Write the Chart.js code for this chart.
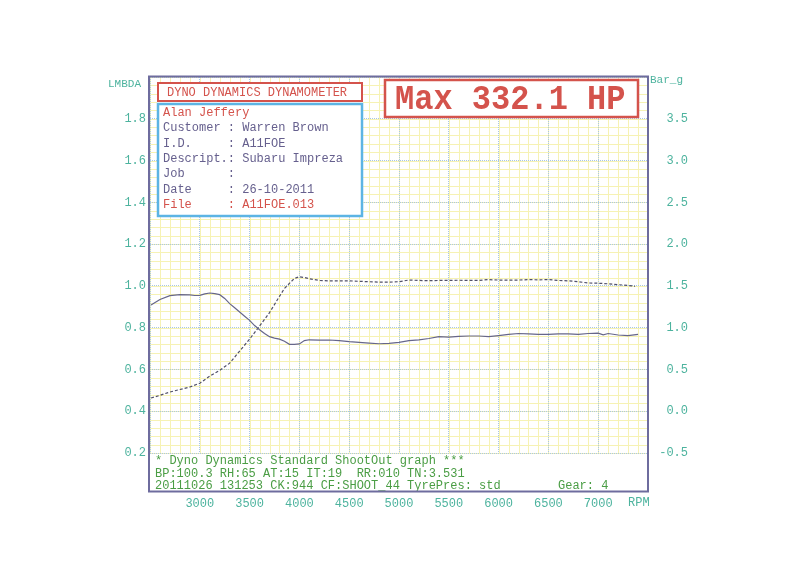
<!DOCTYPE html>
<html>
<head>
<meta charset="utf-8">
<script src="https://cdn.jsdelivr.net/npm/chart.js@4"></script>
<style>
  html, body { margin: 0; padding: 0; background: #fff; }
  canvas { display: block; }
</style>
</head>
<body>
<canvas id="dynoChart" width="799" height="581"></canvas>
<script>
const lambdaRpm = [2510, 2600, 2700, 2800, 2900, 2950, 3000, 3050, 3100, 3150, 3200, 3250, 3300, 3350, 3400, 3450, 3500, 3550, 3600, 3650, 3700, 3750, 3800, 3850, 3900, 3950, 4000, 4050, 4100, 4200, 4300, 4400, 4500, 4600, 4700, 4800, 4900, 5000, 5100, 5200, 5300, 5400, 5500, 5600, 5700, 5800, 5900, 6000, 6100, 6200, 6300, 6400, 6500, 6600, 6700, 6800, 6900, 7000, 7050, 7100, 7200, 7300, 7400];
const lambdaVals = [0.909, 0.935, 0.953, 0.958, 0.957, 0.954, 0.955, 0.962, 0.966, 0.963, 0.958, 0.94, 0.915, 0.895, 0.875, 0.855, 0.835, 0.81, 0.79, 0.772, 0.757, 0.75, 0.745, 0.735, 0.72, 0.72, 0.722, 0.738, 0.742, 0.74, 0.741, 0.738, 0.733, 0.73, 0.726, 0.723, 0.725, 0.73, 0.738, 0.742, 0.748, 0.757, 0.755, 0.758, 0.76, 0.76, 0.757, 0.762, 0.768, 0.772, 0.77, 0.768, 0.768, 0.77, 0.77, 0.768, 0.772, 0.774, 0.766, 0.772, 0.765, 0.762, 0.768];

const boostRpm = [2510, 2600, 2700, 2800, 2900, 3000, 3100, 3200, 3300, 3400, 3500, 3600, 3700, 3800, 3850, 3900, 3950, 4000, 4050, 4100, 4200, 4300, 4400, 4500, 4600, 4700, 4800, 4900, 5000, 5100, 5200, 5300, 5400, 5500, 5600, 5700, 5800, 5900, 6000, 6100, 6200, 6300, 6400, 6500, 6600, 6700, 6800, 6900, 7000, 7100, 7200, 7300, 7370];
const boostVals = [0.158, 0.19, 0.23, 0.26, 0.29, 0.335, 0.42, 0.49, 0.575, 0.72, 0.863, 1.02, 1.18, 1.375, 1.47, 1.53, 1.59, 1.61, 1.6, 1.585, 1.565, 1.56, 1.56, 1.56, 1.555, 1.55, 1.545, 1.545, 1.55, 1.57, 1.565, 1.562, 1.565, 1.565, 1.568, 1.565, 1.565, 1.575, 1.57, 1.568, 1.57, 1.575, 1.572, 1.575, 1.565, 1.56, 1.55, 1.535, 1.532, 1.525, 1.515, 1.505, 1.495];

// header / info text
const headerTitle = 'DYNO DYNAMICS DYNAMOMETER';
const infoLines = [
  'Alan Jeffery',
  'Customer : Warren Brown',
  'I.D.     : A11FOE',
  'Descript.: Subaru Impreza',
  'Job      :',
  'Date     : 26-10-2011',
  'File     : A11FOE.013',
];
const maxPowerText = 'Max 332.1 HP';
const footerLines = [
  '* Dyno Dynamics Standard ShootOut graph ***',
  'BP:100.3 RH:65 AT:15 IT:19  RR:010 TN:3.531',
  '20111026 131253 CK:944 CF:SHOOT_44 TyrePres: std',
];
const gearText = 'Gear: 4';

const MONO = '"Liberation Mono", "DejaVu Sans Mono", monospace';
const TEAL = '#4db39e';
const RED = '#d4534c';
const PURPLE = '#66608e';
const GREEN = '#4a9d44';
const FRAME = '#6e6c9e';

const toPoints = (xs, ys) => xs.map((x, i) => ({ x, y: ys[i] }));

/* minor yellow grid underneath everything */
const minorGrid = {
  id: 'minorGrid',
  beforeDraw(chart) {
    const { ctx, chartArea: a, scales } = chart;
    ctx.save();
    ctx.fillStyle = '#fff';
    ctx.fillRect(0, 0, chart.width, chart.height);
    ctx.strokeStyle = '#f6f2b4';
    ctx.lineWidth = 1;
    ctx.beginPath();
    for (let r = 2500; r <= 7500; r += 100) {
      const px = Math.round(scales.x.getPixelForValue(r)) + 0.5;
      ctx.moveTo(px, a.top);
      ctx.lineTo(px, a.bottom);
    }
    for (let v = 0.2; v <= 2.0001; v += 0.04) {
      const py = Math.round(scales.y.getPixelForValue(v)) + 0.5;
      ctx.moveTo(a.left, py);
      ctx.lineTo(a.right, py);
    }
    ctx.stroke();
    ctx.restore();
  },
};

/* frame, text boxes and titles on top */
const dynoDecor = {
  id: 'dynoDecor',
  afterDraw(chart) {
    const { ctx, chartArea: a } = chart;
    ctx.save();
    ctx.textBaseline = 'middle';

    // footer area
    ctx.fillStyle = '#fff';
    ctx.fillRect(a.left, a.bottom + 1, a.right - a.left, 491 - a.bottom - 1);
    ctx.font = '12px ' + MONO;
    ctx.fillStyle = GREEN;
    footerLines.forEach((t, i) => ctx.fillText(t, 155, 461 + i * 12.5));
    ctx.fillText(gearText, 558, 486);

    // outer frame
    ctx.strokeStyle = FRAME;
    ctx.lineWidth = 2;
    ctx.strokeRect(149, 76.5, 499, 415);

    // axis titles
    ctx.font = '11px ' + MONO;
    ctx.fillStyle = TEAL;
    ctx.fillText('LMBDA', 108, 84);
    ctx.fillText('Bar_g', 650, 80);
    ctx.font = '12px ' + MONO;
    ctx.fillText('RPM', 628, 503);

    // title box
    ctx.fillStyle = '#fff';
    ctx.fillRect(157, 82, 206, 135);
    ctx.strokeStyle = RED;
    ctx.lineWidth = 2;
    ctx.strokeRect(158, 83, 204, 18);
    ctx.fillStyle = RED;
    ctx.fillText(headerTitle, 167, 92.5);

    // info box
    ctx.strokeStyle = '#5cb4e4';
    ctx.lineWidth = 2.5;
    ctx.strokeRect(158, 104, 204, 112);
    infoLines.forEach((t, i) => {
      ctx.fillStyle = (i === 0 || i === infoLines.length - 1) ? RED : PURPLE;
      ctx.fillText(t, 163, 113 + i * 15.3);
    });

    // max power box
    ctx.fillStyle = '#fff';
    ctx.fillRect(385, 80, 253, 37);
    ctx.strokeStyle = RED;
    ctx.lineWidth = 2.5;
    ctx.strokeRect(385, 80, 253, 37);
    ctx.save();
    ctx.translate(395, 100);
    ctx.scale(1, 1.12);
    ctx.font = 'bold 32px ' + MONO;
    ctx.fillStyle = RED;
    ctx.fillText(maxPowerText, 0, 0);
    ctx.restore();

    ctx.restore();
  },
};

const ctx = document.getElementById('dynoChart').getContext('2d');

window.dynoChartRef = new Chart(ctx, {
  type: 'line',
  data: {
    datasets: [
      {
        label: 'LMBDA',
        data: toPoints(lambdaRpm, lambdaVals),
        yAxisID: 'y',
        borderColor: '#66668a',
        borderWidth: 1.2,
        pointRadius: 0,
        tension: 0,
      },
      {
        label: 'Bar_g',
        data: toPoints(boostRpm, boostVals),
        yAxisID: 'y1',
        borderColor: '#50506a',
        borderWidth: 1.2,
        borderDash: [3, 2],
        pointRadius: 0,
        tension: 0,
      },
    ],
  },
  options: {
    responsive: false,
    animation: false,
    layout: { padding: { left: 0, right: 111, top: 77, bottom: 68 } },
    plugins: { legend: { display: false }, tooltip: { enabled: false } },
    scales: {
      x: {
        type: 'linear',
        min: 2500,
        max: 7500,
        afterFit(s) { s.height = 60; },
        grid: { color: '#a8c6e6', lineWidth: 1, drawTicks: false },
        border: { display: false, dash: [1, 1] },
        ticks: {
          stepSize: 500,
          padding: 44,
          autoSkip: false,
          maxRotation: 0,
          color: TEAL,
          font: { family: MONO, size: 12 },
          callback: v => (v === 2500 || v === 7500 ? '' : String(v)),
        },
      },
      y: {
        position: 'left',
        min: 0.2,
        max: 2.0,
        afterFit(s) { s.width = 150; },
        grid: { color: '#a8c6e6', lineWidth: 1, drawTicks: false },
        border: { display: false, dash: [1, 1] },
        ticks: {
          stepSize: 0.2,
          padding: 4,
          color: TEAL,
          font: { family: MONO, size: 12 },
          callback: v => (v > 1.95 ? '' : Number(v).toFixed(1)),
        },
      },
      y1: {
        position: 'right',
        min: -0.5,
        max: 4.0,
        afterFit(s) { s.width = 40; },
        grid: { display: false, drawTicks: false },
        border: { display: false },
        ticks: {
          stepSize: 0.5,
          padding: 2,
          crossAlign: 'far',
          color: TEAL,
          font: { family: MONO, size: 12 },
          callback: v => (v > 3.9 ? '' : Number(v).toFixed(1)),
        },
      },
    },
  },
  plugins: [minorGrid, dynoDecor],
});
</script>
</body>
</html>
